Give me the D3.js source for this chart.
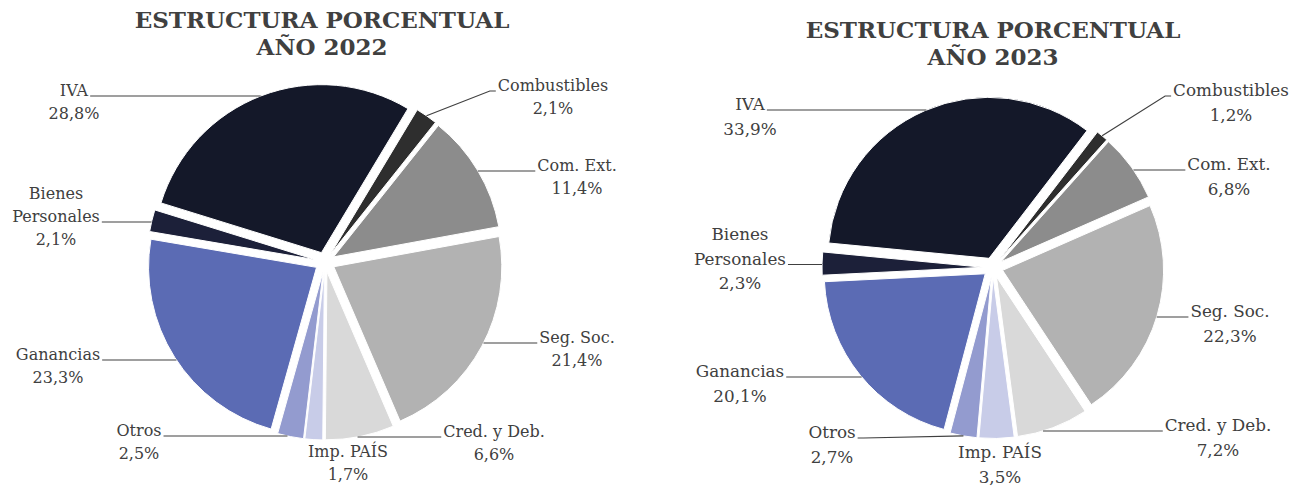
<!DOCTYPE html>
<html>
<head>
<meta charset="utf-8">
<script src="https://cdn.jsdelivr.net/npm/d3@7"></script>
<style>
  body { margin: 0; background: #fff; }
  svg { display: block; }
  text { font-family: "DejaVu Serif", serif; fill: #404040; }
</style>
</head>
<body>
<svg id="chart" width="1306" height="490"></svg>
<script>
// data, clockwise from the first slice
var categories = ["Combustibles", "Com. Ext.", "Seg. Soc.", "Cred. y Deb.", "Imp. PAÍS", "Otros", "Ganancias", "Bienes Personales", "IVA"];
var labelLines = [["Combustibles"], ["Com. Ext."], ["Seg. Soc."], ["Cred. y Deb."], ["Imp. PAÍS"], ["Otros"], ["Ganancias"], ["Bienes", "Personales"], ["IVA"]];
var values2022 = [2.1, 11.4, 21.4, 6.6, 1.7, 2.5, 23.3, 2.1, 28.8];
var values2023 = [1.2, 6.8, 22.3, 7.2, 3.5, 2.7, 20.1, 2.3, 33.9];
var titles2022 = ["ESTRUCTURA PORCENTUAL", "AÑO 2022"];
var titles2023 = ["ESTRUCTURA PORCENTUAL", "AÑO 2023"];
var colors = ["#2e2e2e", "#8c8c8c", "#b2b2b2", "#d9d9d9", "#c8cce8", "#939bcf", "#5b6bb4", "#1c2039", "#141829"];

// layout: label text centre x, first-line baseline y; which line the leader hangs from
var labelPos2022 = [[553, 91], [577, 171], [577, 343], [494, 437], [348, 457], [139, 436], [58, 360], [56, 199], [74, 96]];
var labelPos2023 = [[1231, 96], [1229, 170], [1230, 317], [1218, 431], [1000, 458], [832, 438], [740, 377], [740, 240], [750, 110]];
var leaderLine = [0, 0, 0, 0, -1, 0, 0, 1, 0];

var charts = [
  { values: values2022, title: titles2022, labels: labelPos2022, cx: 325, cy: 262, r: 168, start: 31, titleX: 322, titleY: 28, font: 16, lh: 23, tfont: 23 },
  { values: values2023, title: titles2023, labels: labelPos2023, cx: 993, cy: 267.5, r: 161, start: 37.5, titleX: 993, titleY: 38, font: 16.8, lh: 24.5, tfont: 23 }
];

var explode = 10;
var svg = d3.select("#chart");
var fmt = function(v) { return d3.format(".1f")(v).replace(".", ",") + "%"; };

charts.forEach(function(c) {
  var g = svg.append("g");

  // title
  g.selectAll(".title").data(c.title).enter().append("text")
    .attr("x", c.titleX)
    .attr("y", function(d, i) { return c.titleY + i * 27; })
    .attr("text-anchor", "middle")
    .attr("font-size", c.tfont)
    .attr("font-weight", "bold")
    .text(function(d) { return d; });

  var a0 = c.start * Math.PI / 180;
  var pie = d3.pie().sort(null).value(function(d) { return d; })
    .startAngle(a0).endAngle(a0 + 2 * Math.PI);
  var arc = d3.arc().innerRadius(0).outerRadius(c.r);
  var arcs = pie(c.values);

  var off = function(d) {
    var m = (d.startAngle + d.endAngle) / 2;
    return [explode * Math.sin(m), -explode * Math.cos(m)];
  };

  g.selectAll("path.slice").data(arcs).enter().append("path")
    .attr("class", "slice")
    .attr("transform", function(d) { var o = off(d); return "translate(" + (c.cx + o[0]) + "," + (c.cy + o[1]) + ")"; })
    .attr("d", arc)
    .attr("fill", function(d, i) { return colors[i]; })
    .attr("stroke", "#fff")
    .attr("stroke-width", 1);

  // labels
  arcs.forEach(function(d, i) {
    var p = c.labels[i];
    var lines = labelLines[i].concat([fmt(c.values[i])]);
    var t = g.append("text").attr("text-anchor", "middle").attr("font-size", c.font);
    lines.forEach(function(s, k) {
      t.append("tspan").attr("x", p[0]).attr("y", p[1] + k * c.lh).text(s);
    });
    var li = leaderLine[i];
    if (li < 0) return;
    var w = t.selectAll("tspan").nodes()[li].getComputedTextLength();
    var right = p[0] > c.cx;
    var ly = p[1] + li * c.lh;
    var sx = right ? p[0] - w / 2 - 2 : p[0] + w / 2 + 2;

    // target on the exploded slice edge
    var o = off(d), ccx = c.cx + o[0], ccy = c.cy + o[1];
    var dy = ly - ccy, tx, ty;
    var ok = false;
    if (Math.abs(dy) < c.r) {
      var dx = Math.sqrt(c.r * c.r - dy * dy) * (right ? 1 : -1);
      var ang = Math.atan2(dx, -dy);
      while (ang < d.startAngle) ang += 2 * Math.PI;
      if (ang <= d.endAngle) { ok = true; tx = ccx + dx; ty = ly; }
    }
    if (!ok) {
      var m = (d.startAngle + d.endAngle) / 2;
      tx = ccx + c.r * Math.sin(m);
      ty = ccy - c.r * Math.cos(m);
    }
    var path = d3.path();
    path.moveTo(sx, ly);
    if (!ok) path.lineTo(sx + (right ? -6 : 6), ly);
    path.lineTo(tx, ty);
    g.append("path").attr("d", path.toString())
      .attr("fill", "none").attr("stroke", "#404040").attr("stroke-width", 1.2);
  });
});
</script>
</body>
</html>
